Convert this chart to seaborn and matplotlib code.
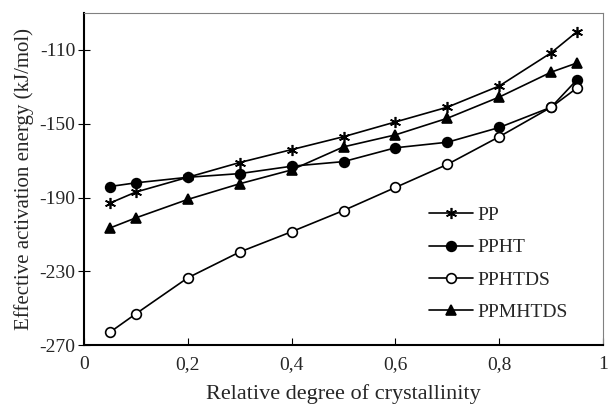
import matplotlib
matplotlib.use("Agg")
import matplotlib.pyplot as plt
import seaborn as sns
import pandas as pd

sns.set_style("ticks")
plt.rcParams["font.family"] = ["Liberation Serif", "DejaVu Serif"]
plt.rcParams["axes.unicode_minus"] = False

# relative degree of crystallinity
alpha = [0.05, 0.1, 0.2, 0.3, 0.4, 0.5, 0.6, 0.7, 0.8, 0.9, 0.95]

# effective activation energy (kJ/mol)
pp = [-193, -187, -179, -171, -164, -157, -149, -141, -129.5, -111.5, -100]
ppht = [-184, -182, -179, -177, -173, -170.5, -163, -160, -152, -141, -126]
pphtds = [-263, -253, -233.5, -219.5, -208.5, -197, -184.5, -172, -157, -141, -130.5]
ppmhtds = [-206.5, -201, -191, -182.5, -175, -162.5, -156, -147, -135.5, -122, -117]

series = {"PP": pp, "PPHT": ppht, "PPHTDS": pphtds, "PPMHTDS": ppmhtds}
styles = {
    "PP": dict(marker=(6, 2, 0), ms=8, mfc="black"),
    "PPHT": dict(marker="o", ms=7, mfc="black"),
    "PPHTDS": dict(marker="o", ms=7, mfc="white"),
    "PPMHTDS": dict(marker="^", ms=7.5, mfc="black"),
}

fig = plt.figure(figsize=(6.08, 4.09), dpi=100)
ax = fig.add_axes([0.138, 0.156, 0.854, 0.812])

for name, vals in series.items():
    df = pd.DataFrame({"x": alpha, "y": vals})
    sns.lineplot(data=df, x="x", y="y", ax=ax, color="black", lw=1.2,
                 mec="black", mew=1.2, label=name, **styles[name])

ax.set_xlim(0, 1)
ax.set_ylim(-270, -90)
ax.set_xticks([0, 0.2, 0.4, 0.6, 0.8, 1])
ax.set_xticklabels(["0", "0,2", "0,4", "0,6", "0,8", "1"])
ax.set_yticks([-270, -230, -190, -150, -110])
ax.tick_params(axis="x", direction="in", length=5, labelsize=14, pad=8, color="black")
ax.tick_params(axis="y", direction="inout", length=8, labelsize=14, pad=2, color="black")
ax.set_xlabel("Relative degree of crystallinity", fontsize=16, labelpad=8)
ax.set_ylabel("Effective activation energy (kJ/mol)", fontsize=15, labelpad=4)

for s in ["top", "right"]:
    ax.spines[s].set_color("#808080")
for s in ["left", "bottom"]:
    ax.spines[s].set_color("black")
    ax.spines[s].set_linewidth(1.5)

ax.legend(loc="upper left", bbox_to_anchor=(0.63, 0.47), frameon=False,
          fontsize=14, labelspacing=0.75, handlelength=2.3, handletextpad=0.2)

fig.savefig("out.png", dpi=100)
